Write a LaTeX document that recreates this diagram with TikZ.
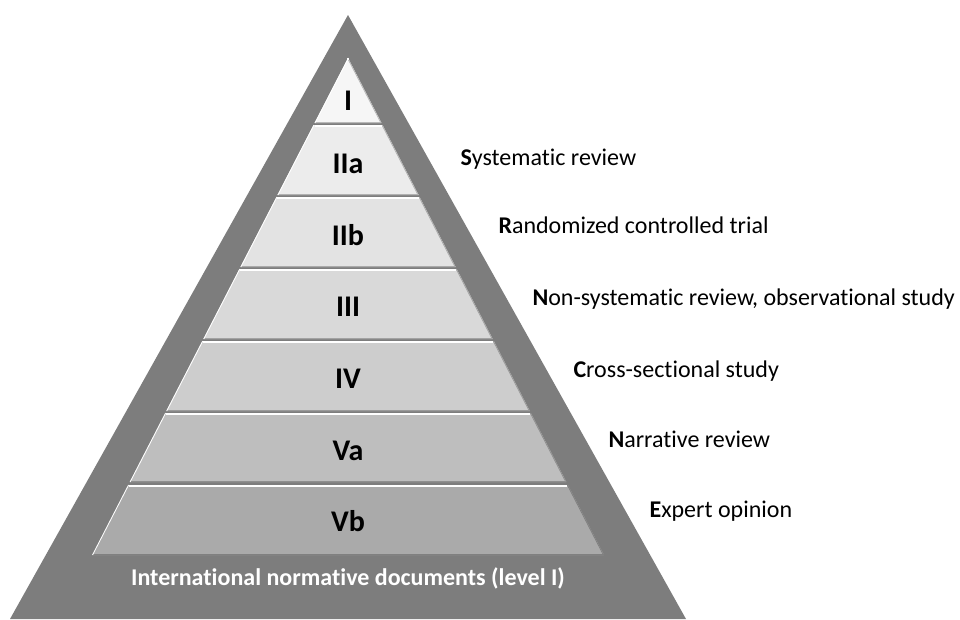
\documentclass[tikz,border=0pt]{standalone}
\usepackage{fontspec}
\setmainfont[Ligatures=NoCommon]{Carlito}
\usepackage{tikz}
\definecolor{pyrgray}{RGB}{125,125,125}
\definecolor{bandI}{RGB}{246,246,246}
\definecolor{bandIIa}{RGB}{236,236,236}
\definecolor{bandIIb}{RGB}{227,227,227}
\definecolor{bandIII}{RGB}{217,217,217}
\definecolor{bandIV}{RGB}{205,205,205}
\definecolor{bandVa}{RGB}{190,190,190}
\definecolor{bandVb}{RGB}{170,170,170}
\newcommand{\lvfont}   {\bfseries\fontsize{30}{34}\selectfont}
\newcommand{\descfont} {\fontsize{24}{28}\selectfont}

\begin{document}
\begin{tikzpicture}[x=1pt,y=-1pt]
       \useasboundingbox (0,0) rectangle (960,619);
       % outer frame
       \fill[pyrgray] (348,15) -- (686,619) -- (10,619) -- cycle;
       % levels, top to bottom
       \foreach \t/\b/\y/\c/\l/\n in {58/123/110/bandI/I/lvI,
           125/195/173/bandIIa/IIa/lvIIa, 197/267/245/bandIIb/IIb/lvIIb,
           269/339/316/bandIII/III/lvIII, 341/411/388/bandIV/IV/lvIV,
           413/482/460/bandVa/Va/lvVa, 485/555/531/bandVb/Vb/lvVb}{
         \pgfmathsetmacro{\tw}{0.515*(\t-58)}
         \pgfmathsetmacro{\bw}{0.515*(\b-58)}
         \fill[\c] (348-\tw,\t) -- (348+\tw,\t) -- (348+\bw,\b) -- (348-\bw,\b) -- cycle;
         \draw[\c!75!black,line width=1pt] (348-\bw,\b-0.5) -- (348+\bw,\b-0.5);
         \draw[\c!75!black,line width=0.8pt] (348+\tw-0.5,\t) -- (348+\bw-0.5,\b);
         \draw[white,line width=0.8pt] (348-\tw+0.5,\t) -- (348-\bw+0.5,\b);
         \draw[white,line width=1.6pt] (348-\tw+1,\t+1) -- (348+\tw-1,\t+1);
         \node[font=\lvfont,anchor=base] (\n) at (348,\y) {\l};
       }
       \node[font=\bfseries\fontsize{24}{28}\selectfont,text=white,anchor=base]
         (intl) at (348,585) {International normative documents (level I)};
       % descriptions on the right
       \node[font=\descfont,anchor=base west] (sysrev) at (457,165) {\textbf{S}ystematic review};
       \node[font=\descfont,anchor=base west] (rct) at (495,233) {\textbf{R}andomized controlled trial};
       \node[font=\descfont,anchor=base west] (nonsys) at (529,305) {\textbf{N}on-systematic review, observational study};
       \node[font=\descfont,anchor=base west] (cross) at (570,377) {\textbf{C}ross-sectional study};
       \node[font=\descfont,anchor=base west] (narr) at (605,447) {\textbf{N}arrative review};
       \node[font=\descfont,anchor=base west] (expert) at (646,517) {\textbf{E}xpert opinion};
      \end{tikzpicture}
\end{document}
